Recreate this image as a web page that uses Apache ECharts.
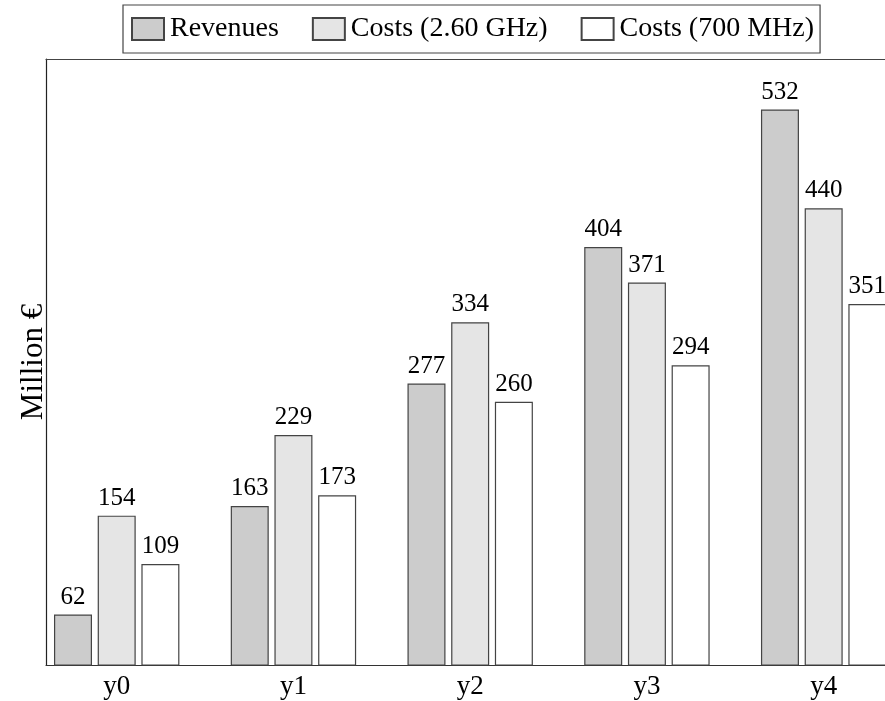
<!DOCTYPE html>
<html>
<head>
<meta charset="utf-8">
<script src="https://cdn.jsdelivr.net/npm/echarts@6/dist/echarts.min.js"></script>
<style>html,body{margin:0;padding:0;background:#fff}#c{width:885px;height:701px}</style>
</head>
<body>
<div id="c"></div>
<script>
var categories = ['y0', 'y1', 'y2', 'y3', 'y4'];
var revenues = [62, 163, 277, 404, 532];
var costs260 = [154, 229, 334, 371, 440];
var costs700 = [109, 173, 260, 294, 351];
var seriesNames = ['Revenues', 'Costs (2.60 GHz)', 'Costs (700 MHz)'];
var tickValues = [0, 1, 2, 3, 4];

var FONT = '"Liberation Serif", "Times New Roman", serif';
function pairs(arr) { return arr.map(function (v, i) { return [i, v]; }); }
var fills = ['#cccccc', '#e5e5e5', '#ffffff'];
var all = [revenues, costs260, costs700];
var XMIN = -0.4, XMAX = 4.347;

var chart = echarts.init(document.getElementById('c'), null, { renderer: 'canvas' });
chart.setOption({
  animation: false,
  textStyle: { fontFamily: FONT, color: '#000' },
  legend: {
    data: seriesNames,
    left: 123, top: 5,
    padding: [10, 6, 10, 8],
    itemWidth: 32, itemHeight: 22, itemGap: 33,
    icon: 'rect',
    borderColor: '#444', borderWidth: 1.2,
    textStyle: { fontFamily: FONT, fontSize: 28, color: '#000', padding: [0, 0, 0, 1] }
  },
  grid: { left: 46, top: 59, right: 0, height: 606 },
  xAxis: [{
    type: 'value', min: XMIN, max: XMAX,
    splitLine: { show: false },
    axisTick: { show: false },
    axisLine: { show: true, onZero: false, lineStyle: { color: '#333', width: 1.2 } },
    axisLabel: {
      customValues: tickValues,
      formatter: function (v) { return categories[Math.round(v)]; },
      fontFamily: FONT, fontSize: 27, color: '#000', margin: 8
    }
  }, {
    type: 'value', min: XMIN, max: XMAX, position: 'top',
    splitLine: { show: false }, axisTick: { show: false }, axisLabel: { show: false },
    axisLine: { show: true, onZero: false, lineStyle: { color: '#444', width: 1.2 } }
  }],
  yAxis: {
    type: 'value', min: 15, max: 579,
    splitLine: { show: false },
    axisTick: { show: false },
    axisLabel: { show: false },
    axisLine: { show: true, onZero: false, lineStyle: { color: '#222', width: 1.2 } },
    name: 'Million €', nameLocation: 'middle', nameGap: -3,
    nameTextStyle: { fontFamily: FONT, fontSize: 31, color: '#000' }
  },
  series: all.map(function (arr, k) {
    return {
      name: seriesNames[k], type: 'bar',
      data: pairs(arr),
      barWidth: 38, barGap: '15%',
      itemStyle: { color: fills[k], borderColor: '#444', borderWidth: 1.2 },
      label: { show: true, position: 'top', distance: 5, fontFamily: FONT, fontSize: 25, color: '#000' }
    };
  })
});
</script>
</body>
</html>
